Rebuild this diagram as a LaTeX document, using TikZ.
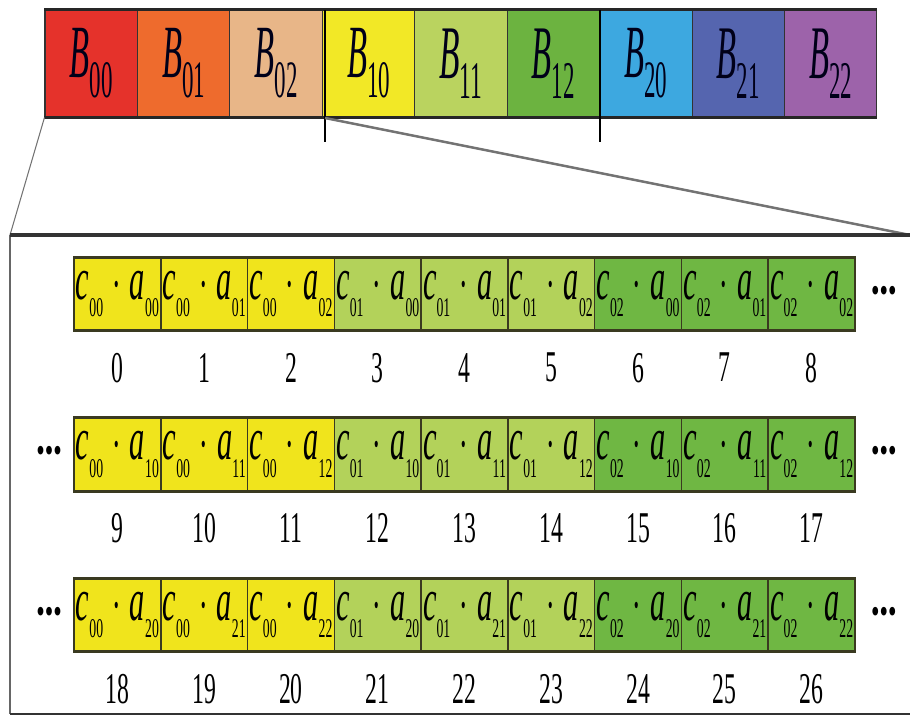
\documentclass[tikz,border=0pt]{standalone}
\usepackage{fontspec}
\setmainfont{Liberation Serif}
\usepackage{graphicx}
\usetikzlibrary{positioning}
\definecolor{bred}{HTML}{E5322B}
\definecolor{borange}{HTML}{EE6B2D}
\definecolor{btan}{HTML}{E8B688}
\definecolor{byellow}{HTML}{F2E826}
\definecolor{blgreen}{HTML}{BAD35F}
\definecolor{bgreen}{HTML}{6CB340}
\definecolor{bsky}{HTML}{3DA8E0}
\definecolor{bblue}{HTML}{5565AF}
\definecolor{bpurple}{HTML}{9D63AA}
\definecolor{cyellow}{HTML}{F0E41C}
\definecolor{clgreen}{HTML}{B3D25A}
\definecolor{cgreen}{HTML}{6FB743}
\definecolor{cellline}{HTML}{3A3A20}
\newcommand{\lowidx}[2]{\raisebox{-#1em}{#2}}
\newcommand{\blabel}[1]{\resizebox*{0.86cm}{1.4cm}{\textit{B}\lowidx{0.27}{\scriptsize #1}}}
\newcommand{\prodlabel}[2]{\resizebox*{1.66cm}{0.92cm}{\textit{c}\lowidx{0.29}{\fontsize{4.5}{5}\selectfont #1}\hspace{0.3em}$\cdot$\hspace{0.3em}\textit{a}\lowidx{0.29}{\fontsize{4.5}{5}\selectfont #2}}}
\newcommand{\cellnum}[1]{\scalebox{0.54}[1]{\fontsize{25}{30}\selectfont #1}}
\newcommand{\moredots}{\scalebox{1.15}[1.7]{\fontsize{12}{14}\selectfont\textbullet\textbullet\textbullet}}

\begin{document}
\begin{tikzpicture}[x=0.02cm, y=-0.02cm,
    bcell/.style={rectangle, draw=black!80, line width=0.6pt, inner sep=0pt,
      minimum width=1.849cm, minimum height=2.14cm, text=black!90!blue},
    pcell/.style={rectangle, draw=cellline, line width=0.9pt, inner sep=0pt,
      minimum width=1.736cm, minimum height=1.44cm},
    idx/.style={inner sep=0pt},
    zoomline/.style={black!55},
  ]
  \useasboundingbox (0,0) rectangle (910,717);

  % blocks of the whole matrix
  \foreach \name/\col [count=\i from 0] in {00/bred,01/borange,02/btan,10/byellow,11/blgreen,12/bgreen,20/bsky,21/bblue,22/bpurple}
    \node[bcell, fill=\col] (b\name) at ({45+92.44*(\i+0.5)},63.5) {\blabel{\name}};
  \draw[line width=1.6pt, black!85] (b00.north west) -- (b22.north east);
  \draw[line width=1.6pt, black!85] (b00.south west) -- (b22.south east);

  \coordinate (tickAtop) at (325,10);
  \coordinate (tickAbot) at (325,142);
  \coordinate (tickBtop) at (600,10);
  \coordinate (tickBbot) at (600,142);
  \draw[line width=0.6pt] (tickAtop) -- (tickAbot);
  \draw[line width=0.6pt] (tickBtop) -- (tickBbot);

  % enlarged view
  \coordinate (boxnw) at (10,235);
  \coordinate (boxne) at (910,235);
  \coordinate (boxsw) at (10,714);
  \coordinate (boxse) at (910,714);
  \coordinate (zoomstart) at (325,118);
  \draw[zoomline, line width=0.6pt] (b00.south west) -- (boxnw);
  \draw[zoomline, line width=1.4pt] (zoomstart) -- (boxne);
  \draw[line width=0.8pt, black!60] (boxnw) -- (boxsw);
  \draw[line width=1.2pt, black!80] (boxsw) -- (boxse);
  \draw[line width=2.6pt, black!80] (boxnw) -- (boxne);

  \foreach \r in {0,1,2}
    \foreach \cc/\col in {0/cyellow,1/clgreen,2/cgreen}
      \foreach \aa in {0,1,2} {
        \pgfmathtruncatemacro{\k}{3*\cc+\aa}
        \pgfmathtruncatemacro{\n}{9*\r+\k}
        \node[pcell, fill=\col] (p\n) at ({74+86.78*(\k+0.5)},{294+160.5*\r}) {\prodlabel{0\cc}{\r\aa}};
        \node[idx, below=0.44cm of p\n] (n\n) {\cellnum{\n}};
      }
  \foreach \first/\last in {0/8,9/17,18/26} {
    \draw[line width=1.6pt, cellline] (p\first.north west) -- (p\last.north east);
    \draw[line width=1.6pt, cellline] (p\first.south west) -- (p\last.south east);
    \node[idx, right=0.3cm of p\last] (dr\first) {\moredots};
  }
  \node[idx, left=0.22cm of p9] (dl9) {\moredots};
  \node[idx, left=0.22cm of p18] (dl18) {\moredots};
\end{tikzpicture}
\end{document}
